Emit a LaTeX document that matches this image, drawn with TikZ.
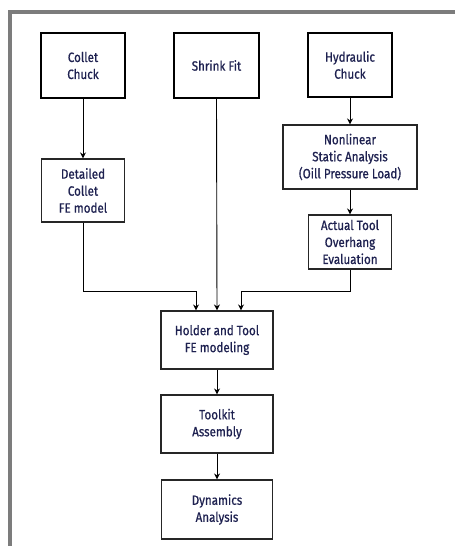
\documentclass[tikz,border=0pt]{standalone}
\usepackage{fontspec}
\setmainfont[FakeStretch=0.86,FakeBold=0.7]{Fira Sans}
\usetikzlibrary{arrows.meta,calc}
\definecolor{txt}{HTML}{1E2150}
\definecolor{frame}{HTML}{7C7C7C}
\tikzset{
  base/.style={draw, fill=white, align=center, inner sep=0pt, text=txt,
    font=\fontsize{13.5}{17}\selectfont},
  topbox/.style={base, line width=1.8pt, draw=black},
  midbox/.style={base, line width=1.1pt, draw=black!85},
  arr/.style={draw=black, line width=0.9pt, -{Stealth[length=6pt,width=6pt]}}
}
\begin{document}
\begin{tikzpicture}[x=1pt,y=-1pt]
\useasboundingbox (0,0) rectangle (455,546);
\fill[white] (0,0) rectangle (455,546);
% frame
\draw[frame, line width=4pt] (10,546) -- (10,12) -- (455,12);
% nodes
\node[topbox, minimum width=84pt, minimum height=65pt] (cc) at (83,65.5) {Collet\\Chuck};
\node[topbox, minimum width=85pt, minimum height=65pt] (sf) at (216.5,65.5) {Shrink Fit};
\node[topbox, minimum width=84pt, minimum height=64pt] (hc) at (350,65) {Hydraulic\\Chuck};
\node[midbox, minimum width=134pt, minimum height=64pt] (nl) at (350,157) {Nonlinear\\Static Analysis\\(Oill Pressure Load)};
\node[midbox, minimum width=83pt, minimum height=54pt] (at) at (350,242) {Actual Tool\\Overhang\\Evaluation};
\node[midbox, minimum width=83pt, minimum height=63pt] (dc) at (83,190.5) {Detailed\\Collet\\FE model};
\node[midbox, minimum width=112pt, minimum height=58pt] (hf) at (217,340) {Holder and Tool\\FE modeling};
\node[midbox, minimum width=112pt, minimum height=58pt] (ta) at (217,424) {Toolkit\\Assembly};
\node[midbox, minimum width=111pt, minimum height=59pt] (da) at (217,509.5) {Dynamics\\Analysis};
% connectors
\draw[arr] (cc.south) -- (dc.north);
\draw[arr] (hc.south) -- (nl.north);
\draw[arr] (nl.south) -- (at.north);
\draw[arr] (sf.south) -- (hf.north);
\draw[arr] (dc.south) |- ([xshift=-21pt,yshift=19pt]hf.north) -- ([xshift=-21pt]hf.north);
\draw[arr] (at.south) |- ([xshift=24pt,yshift=19pt]hf.north) -- ([xshift=24pt]hf.north);
\draw[arr] (hf.south) -- (ta.north);
\draw[arr] (ta.south) -- (da.north);
\end{tikzpicture}
\end{document}
